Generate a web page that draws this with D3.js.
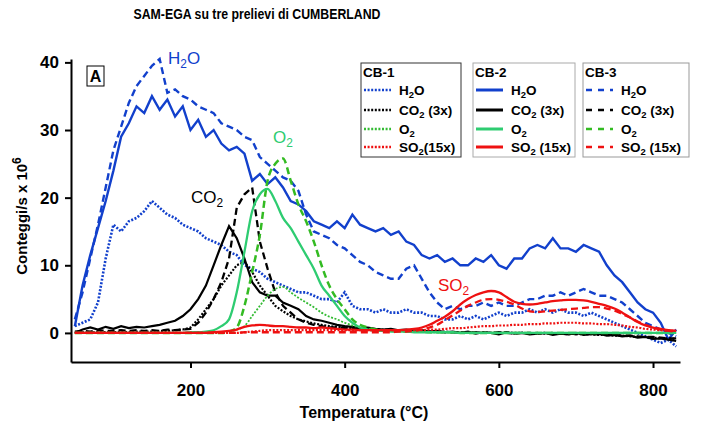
<html>
<head>
<script src="https://d3js.org/d3.v7.min.js"></script>
<style>
body { margin: 0; background: #fff; font-family: 'Liberation Sans', Arial, sans-serif; }
svg { display: block; }
.axis text { font-size: 17px; font-weight: bold; font-family: 'Liberation Sans', Arial, sans-serif; }
.axis path, .axis line { stroke: #000; stroke-width: 2; }
</style>
</head>
<body>
<svg width="702" height="425"></svg>
<script>
// temperature samples (°C)
var temps = [50,60,70,80,90,100,110,120,130,140,
  150,160,170,180,190,200,210,220,230,240,
  250,260,270,280,290,300,310,320,330,340,
  350,360,370,380,390,400,410,420,430,440,
  450,460,470,480,490,500,510,520,530,540,
  550,560,570,580,590,600,610,620,630,640,
  650,660,670,680,690,700,710,720,730,740,
  750,760,770,780,790,800,810,820,830];

// H2O
var h2o_cb1 = [1,1.5,2,4.5,11,16,15,16.5,17,18,
  19.5,18.5,17.5,17,16,15.5,15,14,13.5,13,
  12,11.5,10,9.5,9,8,7.5,7,6.5,6,
  6,5.5,5,5,4.5,6,4,3.5,3.5,3,
  3.5,3,3,3.5,3,3,2.5,2.5,2,2,
  2.5,2,2.5,2,2.5,3,2.5,3,3,3.5,
  3,3.5,3,3.5,3,3,2.5,3,2.5,2,
  1.5,1,0.5,0,-0.5,-1,-1.5,-1,-2];
var h2o_cb2 = [1,7,11.5,15.5,19.5,24,29,31,33.5,32.5,
  35,33,34.5,32,33.5,30,31.5,29,30,28,
  27,27.5,26.5,22.5,23.5,22,23,21.5,19.5,19,
  18,16.5,16,15.5,16.5,15.5,17.5,16,15.5,15,
  15.5,14.5,15,13.5,13,11.5,11,11.5,10.5,11,
  10,10,11,10.5,11.5,10,9.5,11,11,12.5,
  13,12.5,14,12.5,12.5,12,13,12.5,12,10,
  8.5,7.5,6,4.5,3.5,3,1.5,-1,0.5];
var h2o_cb3 = [2,6,11,16,21.5,27,30.5,34,36.5,38,
  39.5,40.5,35.5,36,35,34.5,33.5,33,32.5,31,
  30.5,30,29,28.5,26,25,24,23,22.5,21,
  17.5,15,14.5,14,13,12.5,11.5,10.5,10,9,
  8.5,8,8,9.5,10,8,6,4.5,3.5,4,
  3.5,4,4,4.5,4,4.5,4,4,4.5,5,
  5,5.5,5.5,6,5.5,6,6.5,6,5.5,5.5,
  5,4.5,3.5,2.5,1.5,1,0.5,0,-0.5];

// CO2 (3x)
var co2_cb1 = [0,0.1,0,0.2,0.1,0.1,0.2,0.1,0.2,0.2,
  0.2,0.3,0.3,0.4,0.5,0.8,2,3.5,5,7,
  8.5,10,10.5,9,7,5.5,4,3.2,2.5,2,
  1.7,1.4,1.2,1,0.9,0.8,0.7,0.6,0.6,0.5,
  0.5,0.4,0.4,0.3,0.3,0.3,0.2,0.2,0.2,0.1,
  0.1,0.1,0,0.1,0,0,0.1,0,0,-0.1,
  0,-0.1,0,-0.1,-0.2,-0.1,-0.2,-0.2,-0.3,-0.3,
  -0.4,-0.4,-0.5,-0.6,-0.6,-0.7,-0.8,-0.8,-0.9];
var co2_cb2 = [0,0.5,0.8,0.5,0.9,0.6,1,0.7,0.9,0.8,
  1,1.2,1.5,1.8,2.5,3.5,5,7,10,13,
  15.8,14,11,7.5,6,5.5,5.5,4.5,4,3.5,
  2.5,2,1.8,1.5,1.2,1,0.9,0.7,0.8,0.6,
  0.5,0.6,0.4,0.5,0.3,0.4,0.2,0.3,0.1,0.2,
  0,0.2,-0.1,0.1,0,-0.2,0.1,-0.1,0,-0.2,
  -0.1,0,-0.3,-0.1,-0.2,0,-0.3,-0.2,-0.1,-0.4,
  -0.3,-0.5,-0.4,-0.7,-0.6,-0.9,-0.8,-1,-1.2];
var co2_cb3 = [0.2,0.3,0.2,0.4,0.3,0.3,0.4,0.3,0.4,0.3,
  0.4,0.3,0.5,0.4,0.5,0.6,1.5,3,5,7.5,
  11,18.5,20.5,21.5,13.5,9.5,6,4,3,2,
  1.5,1.2,1,0.8,0.8,0.7,0.6,0.6,0.5,0.5,
  0.4,0.4,0.3,0.3,0.3,0.2,0.2,0.2,0.1,0.1,
  0.1,0,0.1,0,0,0.1,0,-0.1,0,0,
  -0.1,0,-0.1,-0.1,0,-0.2,-0.1,-0.2,-0.2,-0.3,
  -0.3,-0.4,-0.4,-0.5,-0.6,-0.6,-0.7,-0.8,-0.8];

// O2
var o2_cb1 = [0,0,0,0,0,0,0,0,0,0,
  0,0,0,0,0,0,0,0,0,0,
  0.2,0.5,1,2.5,4,5.5,6.5,6.8,6,5.2,
  4.5,3.8,3,2.4,2,1.5,1.1,0.8,0.6,0.5,
  0.4,0.3,0.3,0.2,0.2,0.2,0.1,0.1,0.1,0.1,
  0,0,0,0,0,0,0,0,0,0,
  0,0,0,0,0,0,0,0,0,0,
  0,0,0,0,0,0,0,0,0];
var o2_cb2 = [0,0,0,0,0,0,0,0,0,0,
  0,0,0,0,0,0.1,0.1,0.2,0.4,1,
  2,6,12,18,20.5,21.3,19.5,17,15.5,13.5,
  11.5,9.5,7,5.5,4,2.5,1.5,0.8,0.5,0.3,
  0.3,0.2,0.2,0.2,0.1,0.1,0.1,0.1,0.1,0.1,
  0,0,0,0,0,0,0,0,0,0,
  0,0,0,0,0,0,0,0,0,0,
  0,0,0,0,0,0,0,0,0];
var o2_cb3 = [0,0,0,0,0,0,0,0,0,0,
  0,0,0,0,0,0,0,0,0,0,
  0.2,0.8,4,9,14.5,22.5,25,25.8,22.5,19,
  16.5,13.5,10,7,5,3.5,2,1.2,0.8,0.5,
  0.4,0.3,0.3,0.2,0.2,0.2,0.1,0.1,0.1,0.1,
  0,0,0,0,0,0,0,0,0,0,
  0,0,0,0,0,0,0,0,0,0,
  0,0,0,0,0,0,0,0,0];

// SO2 (15x)
var so2_cb1 = [0,0,0,0,0,0,0,0,0,0,
  0,0,0,0,0,0,0,0,0,0,
  0,0,0.1,0.2,0.3,0.4,0.4,0.4,0.4,0.4,
  0.4,0.4,0.4,0.4,0.4,0.4,0.4,0.4,0.4,0.4,
  0.4,0.4,0.4,0.4,0.4,0.4,0.5,0.5,0.6,0.7,
  0.7,0.8,0.9,1,1,1.1,1.1,1.2,1.2,1.3,
  1.3,1.4,1.4,1.5,1.5,1.5,1.4,1.4,1.3,1.3,
  1.2,1.1,0.9,0.8,0.6,0.5,0.4,0.3,0.3];
var so2_cb2 = [0,0,0,0,0,0,0,0,0,0,
  0,0,0,0,0,0,0,0,0.1,0.2,
  0.3,0.5,0.9,1.1,1.2,1.1,1,1,0.9,0.8,
  0.8,0.7,0.8,0.7,0.6,0.5,0.5,0.4,0.4,0.4,
  0.4,0.4,0.4,0.5,0.6,0.8,1.2,1.8,2.4,3.2,
  4.2,5,5.6,6,6.2,6,5.3,4.6,4.3,4.2,
  4.3,4.5,4.7,4.8,4.9,4.9,4.8,4.6,4.3,4,
  3.6,3,2.3,1.6,1.1,0.8,0.6,0.4,0.3];
var so2_cb3 = [0,0,0,0,0,0,0,0,0,0,
  0,0,0,0,0,0,0,0,0,0,
  0,0,0.1,0.1,0.1,0.1,0.1,0.1,0.1,0.1,
  0.1,0.1,0.1,0.1,0.1,0.1,0.1,0.1,0.1,0.1,
  0.1,0.1,0.2,0.2,0.3,0.5,0.8,1.2,1.9,2.6,
  3.3,4,4.5,4.9,5,4.9,4.6,4.2,3.6,3.2,
  3.1,3.2,3.3,3.4,3.5,3.6,3.7,3.8,3.8,3.6,
  3.3,2.8,2.3,1.7,1.2,0.8,0.5,0.3,0.2];

var xTicks = [200, 400, 600, 800];
var yTicks = [0, 10, 20, 30, 40];

var blue = "#1240cc", black = "#000", red = "#ee1111";
var dotted = "2,1.6", dashed = "7,4";

var series = [
  { v: h2o_cb1, color: blue, dash: dotted, w: 2.6, smooth: false },
  { v: h2o_cb3, color: blue, dash: dashed, w: 2.4, smooth: false },
  { v: h2o_cb2, color: blue, dash: null, w: 2.4, smooth: false },
  { v: co2_cb1, color: black, dash: dotted, w: 2.2, smooth: false },
  { v: co2_cb3, color: black, dash: dashed, w: 2.3, smooth: false },
  { v: co2_cb2, color: black, dash: null, w: 2.2, smooth: false },
  { v: o2_cb1, color: "#33bb33", dash: dotted, w: 1.8, smooth: true },
  { v: o2_cb3, color: "#33bb22", dash: dashed, w: 2.5, smooth: true },
  { v: o2_cb2, color: "#2ecc71", dash: null, w: 2.3, smooth: true },
  { v: so2_cb1, color: red, dash: dotted, w: 2.2, smooth: true },
  { v: so2_cb3, color: red, dash: dashed, w: 2.3, smooth: true },
  { v: so2_cb2, color: red, dash: null, w: 2.3, smooth: true }
];

var svg = d3.select("svg");

var x = d3.scaleLinear().domain([45, 835]).range([71, 680]);
var y = d3.scaleLinear().domain([-4.3, 40.5]).range([362, 59]);

svg.append("defs").append("clipPath").attr("id", "plot")
  .append("rect").attr("x", 71).attr("y", 50).attr("width", 609).attr("height", 312);

var lines = svg.append("g").attr("clip-path", "url(#plot)");
series.forEach(function (s) {
  var line = d3.line()
    .x(function (d, i) { return x(temps[i]); })
    .y(function (d) { return y(d); })
    .curve(s.smooth ? d3.curveMonotoneX : d3.curveLinear);
  lines.append("path")
    .attr("d", line(s.v))
    .attr("fill", "none")
    .attr("stroke", s.color)
    .attr("stroke-width", s.w)
    .attr("stroke-dasharray", s.dash);
});

// axes
svg.append("g").attr("class", "axis")
  .attr("transform", "translate(0,362)")
  .call(d3.axisBottom(x).tickValues(xTicks).tickSize(6).tickSizeOuter(0).tickPadding(16));
svg.append("g").attr("class", "axis")
  .attr("transform", "translate(71,0)")
  .call(d3.axisLeft(y).tickValues(yTicks).tickSize(6).tickSizeOuter(0).tickPadding(6));

// helper for formulas: "_" marks a subscript character
function chem(text, str, size) {
  var parts = str.split("_");
  text.append("tspan").text(parts[0]);
  for (var i = 1; i < parts.length; i++) {
    text.append("tspan").attr("font-size", size * 0.7).attr("dy", size * 0.25).text(parts[i][0]);
    text.append("tspan").attr("dy", -size * 0.25).text(parts[i].slice(1));
  }
}

// titles
svg.append("text").attr("x", 257).attr("y", 19).attr("text-anchor", "middle")
  .attr("font-size", 15).attr("font-weight", "bold")
  .attr("textLength", 247).attr("lengthAdjust", "spacingAndGlyphs")
  .text("SAM-EGA su tre prelievi di CUMBERLAND");
svg.append("text").attr("x", 364).attr("y", 418).attr("text-anchor", "middle")
  .attr("font-size", 16).attr("font-weight", "bold").text("Temperatura (°C)");
var yl = svg.append("text").attr("transform", "translate(27,216) rotate(-90)")
  .attr("text-anchor", "middle").attr("font-size", 15).attr("font-weight", "bold");
yl.append("tspan").text("Conteggi/s x 10");
yl.append("tspan").attr("font-size", 12).attr("dy", -6).text("6");

// panel letter
svg.append("rect").attr("x", 87).attr("y", 66).attr("width", 17).attr("height", 20)
  .attr("fill", "#fff").attr("stroke", "#000").attr("stroke-width", 1);
svg.append("text").attr("x", 95.5).attr("y", 82).attr("text-anchor", "middle")
  .attr("font-size", 16).attr("font-weight", "bold").text("A");

// curve labels
var labels = [
  { t: "H_2O", x: 168, y: 64, c: blue },
  { t: "CO_2", x: 191, y: 203, c: black },
  { t: "O_2", x: 273, y: 143, c: "#2ecc71" },
  { t: "SO_2", x: 438, y: 291, c: red }
];
labels.forEach(function (l) {
  var t = svg.append("text").attr("x", l.x).attr("y", l.y).attr("font-size", 17).attr("fill", l.c);
  chem(t, l.t, 17);
});

// legends
var legendNames = ["CB-1", "CB-2", "CB-3"];
var legendRows = [
  ["H_2O", "CO_2 (3x)", "O_2", "SO_2(15x)"],
  ["H_2O", "CO_2 (3x)", "O_2", "SO_2 (15x)"],
  ["H_2O", "CO_2 (3x)", "O_2", "SO_2 (15x)"]
];
var legendColors = [
  [blue, black, "#33bb33", red],
  [blue, black, "#2ecc71", red],
  [blue, black, "#33bb22", red]
];
var legendDash = [dotted, null, "6,6"];
var boxes = [
  { x: 361, w: 100, stroke: "#333" },
  { x: 473, w: 102, stroke: "#aaa" },
  { x: 583, w: 106, stroke: "#999" }
];
var rowY = [90, 110, 129, 147];
boxes.forEach(function (b, k) {
  var g = svg.append("g");
  g.append("rect").attr("x", b.x).attr("y", 63).attr("width", b.w).attr("height", 94)
    .attr("fill", "#fff").attr("stroke", b.stroke).attr("stroke-width", 1);
  g.append("text").attr("x", b.x + 2).attr("y", 77).attr("font-size", 13.5).attr("font-weight", "bold")
    .text(legendNames[k]);
  legendRows[k].forEach(function (r, i) {
    g.append("line").attr("x1", b.x + 3).attr("x2", b.x + 30)
      .attr("y1", rowY[i]).attr("y2", rowY[i])
      .attr("stroke", legendColors[k][i]).attr("stroke-width", k === 1 ? 3 : 2.5)
      .attr("stroke-dasharray", legendDash[k]);
    var t = g.append("text").attr("x", b.x + 38).attr("y", rowY[i] + 5)
      .attr("font-size", 13.5).attr("font-weight", "bold");
    chem(t, r, 13.5);
  });
});
</script>
</body>
</html>
